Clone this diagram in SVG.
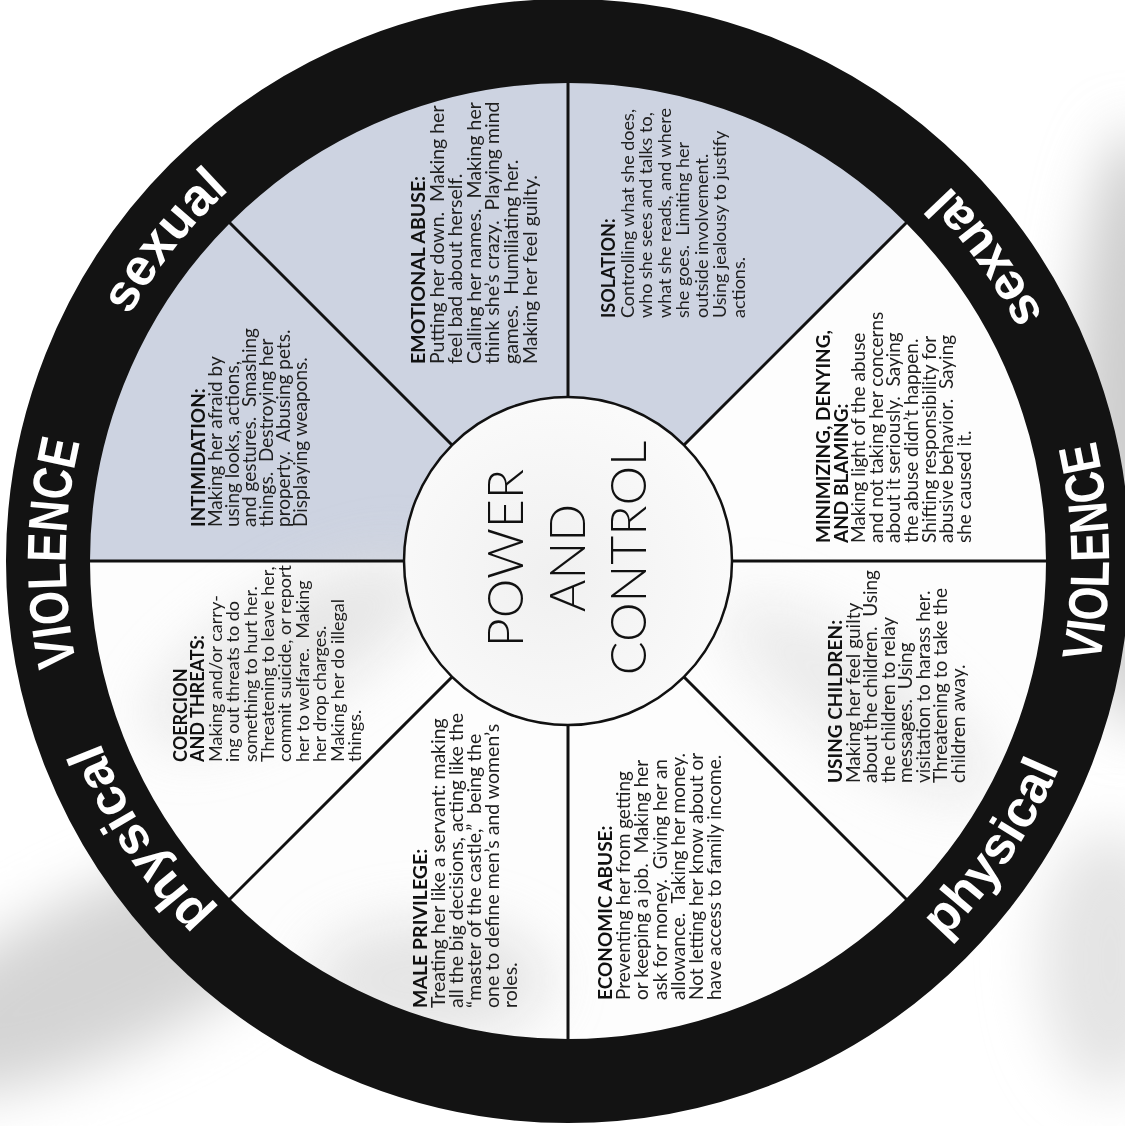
<svg xmlns="http://www.w3.org/2000/svg" width="1125" height="1126" viewBox="0 0 1125 1126">
  <defs>
    <style>
      .blk{font-family:Lato,"Open Sans","Liberation Sans",sans-serif;font-size:19px;fill:#1f1f1f}
      .ttl{font-weight:700;fill:#111}
      .ring-t{font-family:"Liberation Sans",Arial,sans-serif;font-weight:700;fill:#fff;text-anchor:middle}
      .big{font-size:55px}
      .low{font-size:52px}
      .spoke{stroke:#111;stroke-width:3;fill:none}
      .hub-t{font-family:Lato,"Open Sans","Liberation Sans",sans-serif;font-weight:300;font-size:50px;fill:#111;text-anchor:middle}
      .haze{filter:url(#haze)}
    </style>
    <filter id="haze" x="-60%" y="-60%" width="220%" height="220%">
      <feGaussianBlur stdDeviation="28"/>
    </filter>
    <clipPath id="wheelClip">
      <circle cx="568" cy="561" r="480"/>
    </clipPath>
    <radialGradient id="hubFill" cx="0.45" cy="0.55" r="0.6">
      <stop offset="0" stop-color="#f0f0f0"/>
      <stop offset="1" stop-color="#fbfbfb"/>
    </radialGradient>
    <!-- arcs for the ring labels: clockwise on the left, counter-clockwise on the right -->
    <path id="arcViolenceL" d="M389.3,1030.6 A503,503 0 0 1 404.2,85.4"/>
    <path id="arcSexualL" d="M140,823.5 A502,502 0 0 1 726.4,84.4"/>
    <path id="arcPhysicalL" d="M681,1050.1 A502,502 0 0 1 167.1,258.9"/>
    <path id="arcViolenceR" d="M761.9,1066.1 A541,541 0 0 0 744.1,49.5"/>
    <path id="arcSexualR" d="M1011.2,861.6 A538,538 0 0 0 420.8,43.5"/>
    <path id="arcPhysicalR" d="M439,1078.2 A533,533 0 0 0 999.2,247.7"/>
  </defs>

  <!-- page and soft backdrop -->
  <rect width="1125" height="1126" fill="#ffffff"/>
  <g id="backdrop">
    <ellipse class="haze" cx="1135" cy="430" rx="60" ry="300" fill="#cdcdcd"/>
    <ellipse class="haze" cx="110" cy="970" rx="240" ry="80" transform="rotate(-25 110 970)" fill="#d4d4d4"/>
    <ellipse class="haze" cx="1110" cy="960" rx="70" ry="130" fill="#e4e4e4"/>
  </g>

  <!-- wheel face -->
  <g id="wheel-face">
    <circle cx="568" cy="561" r="480" fill="#fdfdfd"/>
    <path d="M568,561 L88,561 A480,480 0 0 1 907.4,221.6 Z" fill="#cdd3e1"/>
    <g clip-path="url(#wheelClip)" opacity="0.7">
      <ellipse class="haze" cx="290" cy="650" rx="160" ry="55" transform="rotate(-30 290 650)" fill="#dedede"/>
      <ellipse class="haze" cx="430" cy="980" rx="120" ry="60" fill="#dadada"/>
      <ellipse class="haze" cx="860" cy="700" rx="160" ry="50" transform="rotate(35 860 700)" fill="#e4e4e4"/>
    </g>
  </g>

  <!-- spokes between the sections -->
  <g id="connectors">
    <line class="spoke" x1="732" y1="561" x2="1050" y2="561"/>
    <line class="spoke" x1="684" y1="677" x2="908.8" y2="901.8"/>
    <line class="spoke" x1="568" y1="725" x2="568" y2="1043"/>
    <line class="spoke" x1="452" y1="677" x2="227.2" y2="901.8"/>
    <line class="spoke" x1="404" y1="561" x2="86" y2="561"/>
    <line class="spoke" x1="452" y1="445" x2="227.2" y2="220.2"/>
    <line class="spoke" x1="568" y1="397" x2="568" y2="79"/>
    <line class="spoke" x1="684" y1="445" x2="908.8" y2="220.2"/>
  </g>

  <!-- outer ring with its labels -->
  <g id="outer-ring">
    <circle cx="568" cy="561" r="520" fill="none" stroke="#131313" stroke-width="84"/>
    <text class="ring-t big"><textPath href="#arcViolenceL" startOffset="50%" textLength="224" lengthAdjust="spacingAndGlyphs">VIOLENCE</textPath></text>
    <text class="ring-t low"><textPath href="#arcSexualL" startOffset="50%">sexual</textPath></text>
    <text class="ring-t low"><textPath href="#arcPhysicalL" startOffset="50%">physical</textPath></text>
    <text class="ring-t big"><textPath href="#arcViolenceR" startOffset="50%" textLength="224" lengthAdjust="spacingAndGlyphs">VIOLENCE</textPath></text>
    <text class="ring-t low"><textPath href="#arcSexualR" startOffset="50%">sexual</textPath></text>
    <text class="ring-t low"><textPath href="#arcPhysicalR" startOffset="50%">physical</textPath></text>
  </g>

  <!-- hub -->
  <g id="hub">
    <circle cx="568" cy="561" r="164" fill="url(#hubFill)" stroke="#111" stroke-width="2.5"/>
    <g transform="translate(568,561) rotate(-90)">
      <text class="hub-t" x="3" y="-45">POWER</text>
      <text class="hub-t" x="3" y="17">AND</text>
      <text class="hub-t" x="3" y="78">CONTROL</text>
    </g>
  </g>

  <!-- sections (text runs bottom to top) -->
  <g id="emotional-abuse" transform="translate(425,364) rotate(-90)">
    <text class="blk" style="font-size:19.5px">
      <tspan class="ttl" x="0" y="0">EMOTIONAL ABUSE:</tspan>
      <tspan x="0" y="18.6">Putting her down.&#160; Making her</tspan>
      <tspan x="0" y="37.2">feel bad about herself.</tspan>
      <tspan x="0" y="55.8">Calling her names.&#160; Making her</tspan>
      <tspan x="0" y="74.4">think she’s crazy.&#160; Playing mind</tspan>
      <tspan x="0" y="93">games.&#160; Humiliating her.</tspan>
      <tspan x="0" y="111.6">Making her feel guilty.</tspan>
    </text>
  </g>

  <g id="isolation" transform="translate(615,318) rotate(-90)">
    <text class="blk" style="font-size:18px">
      <tspan class="ttl" x="0" y="0">ISOLATION:</tspan>
      <tspan x="0" y="18.5">Controlling what she does,</tspan>
      <tspan x="0" y="37">who she sees and talks to,</tspan>
      <tspan x="0" y="55.5">what she reads, and where</tspan>
      <tspan x="0" y="74">she goes.&#160; Limiting her</tspan>
      <tspan x="0" y="92.5">outside involvement.</tspan>
      <tspan x="0" y="111">Using jealousy to justify</tspan>
      <tspan x="0" y="129.5">actions.</tspan>
    </text>
  </g>

  <g id="intimidation" transform="translate(205,527) rotate(-90)">
    <text class="blk">
      <tspan class="ttl" x="0" y="0">INTIMIDATION:</tspan>
      <tspan x="0" y="17">Making her afraid by</tspan>
      <tspan x="0" y="34">using looks, actions,</tspan>
      <tspan x="0" y="51">and gestures.&#160; Smashing</tspan>
      <tspan x="0" y="68">things.&#160; Destroying her</tspan>
      <tspan x="0" y="85">property.&#160; Abusing pets.</tspan>
      <tspan x="0" y="102">Displaying weapons.</tspan>
    </text>
  </g>

  <g id="minimizing" transform="translate(830,543) rotate(-90)">
    <text class="blk">
      <tspan class="ttl" x="0" y="0">MINIMIZING, DENYING,</tspan>
      <tspan class="ttl" x="0" y="17.6">AND BLAMING:</tspan>
      <tspan x="0" y="35.2">Making light of the abuse</tspan>
      <tspan x="0" y="52.8">and not taking her concerns</tspan>
      <tspan x="0" y="70.4">about it seriously.&#160; Saying</tspan>
      <tspan x="0" y="88">the abuse didn’t happen.</tspan>
      <tspan x="0" y="105.6">Shifting responsibility for</tspan>
      <tspan x="0" y="123.2">abusive behavior.&#160; Saying</tspan>
      <tspan x="0" y="140.8">she caused it.</tspan>
    </text>
  </g>

  <g id="coercion" transform="translate(187,762) rotate(-90)">
    <text class="blk" style="font-size:18px">
      <tspan class="ttl" x="0" y="0">COERCION</tspan>
      <tspan class="ttl" x="0" y="17.4">AND THREATS:</tspan>
      <tspan x="0" y="34.8">Making and/or carry-</tspan>
      <tspan x="0" y="52.2">ing out threats to do</tspan>
      <tspan x="0" y="69.6">something to hurt her.</tspan>
      <tspan x="0" y="87">Threatening to leave her,</tspan>
      <tspan x="0" y="104.4">commit suicide, or report</tspan>
      <tspan x="0" y="121.8">her to welfare.&#160; Making</tspan>
      <tspan x="0" y="139.2">her drop charges.</tspan>
      <tspan x="0" y="156.6">Making her do illegal</tspan>
      <tspan x="0" y="174">things.</tspan>
    </text>
  </g>

  <g id="using-children" transform="translate(842,783) rotate(-90)">
    <text class="blk">
      <tspan class="ttl" x="0" y="0">USING CHILDREN:</tspan>
      <tspan x="0" y="17.5">Making her feel guilty</tspan>
      <tspan x="0" y="35">about the children.&#160; Using</tspan>
      <tspan x="0" y="52.5">the children to relay</tspan>
      <tspan x="0" y="70">messages.&#160; Using</tspan>
      <tspan x="0" y="87.5">visitation to harass her.</tspan>
      <tspan x="0" y="105">Threatening to take the</tspan>
      <tspan x="0" y="122.5">children away.</tspan>
    </text>
  </g>

  <g id="male-privilege" transform="translate(427,1008) rotate(-90)">
    <text class="blk" style="font-size:19.5px">
      <tspan class="ttl" x="0" y="0">MALE PRIVILEGE:</tspan>
      <tspan x="0" y="18">Treating her like a servant: making</tspan>
      <tspan x="0" y="36">all the big decisions, acting like the</tspan>
      <tspan x="0" y="54">“master of the castle,”&#160; being the</tspan>
      <tspan x="0" y="72">one to define men’s and women’s</tspan>
      <tspan x="0" y="90">roles.</tspan>
    </text>
  </g>

  <g id="economic-abuse" transform="translate(612,1000) rotate(-90)">
    <text class="blk">
      <tspan class="ttl" x="0" y="0">ECONOMIC ABUSE:</tspan>
      <tspan x="0" y="18.2">Preventing her from getting</tspan>
      <tspan x="0" y="36.4">or keeping a job.&#160; Making her</tspan>
      <tspan x="0" y="54.6">ask for money.&#160; Giving her an</tspan>
      <tspan x="0" y="72.8">allowance.&#160; Taking her money.</tspan>
      <tspan x="0" y="91">Not letting her know about or</tspan>
      <tspan x="0" y="109.2">have access to family income.</tspan>
    </text>
  </g>
</svg>
